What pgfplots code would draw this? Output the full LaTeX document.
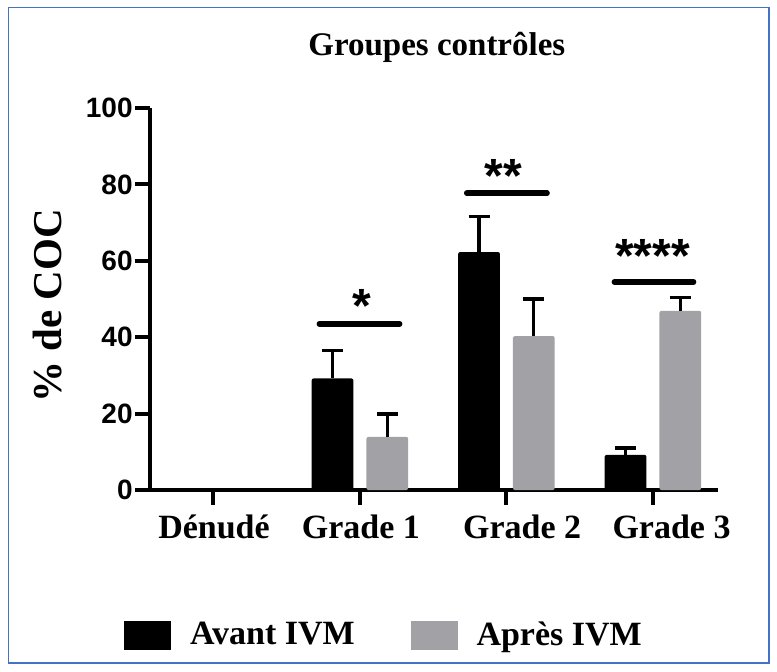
\documentclass[border=0pt]{standalone}
\usepackage{fontspec}
\setmainfont{Liberation Serif}
\newfontfamily\arialfont{Liberation Sans}
\usepackage{pgfplots}
\pgfplotsset{compat=1.18}
\definecolor{grisbar}{RGB}{162,162,166}
\definecolor{cadre}{RGB}{68,114,196}

\begin{document}
\begin{tikzpicture}
\path[use as bounding box] (0pt,0pt) rectangle (388.5pt,-335.5pt);
\draw[cadre, line width=0.8pt] (4.2pt,-3.8pt) rectangle (384.5pt,-331.5pt);
\begin{axis}[
  at={(75pt,-245pt)}, anchor=south west,
  scale only axis, width=284pt, height=191pt,
  xmin=-0.43, xmax=3.447, ymin=0, ymax=100,
  axis x line*=bottom, axis y line*=left,
  axis line style={line width=2.25pt},
  xtick={0,1,2,3}, xticklabels={,,,},
  ytick={0,20,40,60,80,100},
  tick align=outside, major tick length=7.5pt,
  tick style={line width=2pt, black},
  /pgf/number format/assume math mode=true,
  yticklabel style={font=\arialfont\bfseries\fontsize{14}{16}\selectfont, inner sep=1pt},
  ylabel={\% de COC},
  ylabel style={at={(axis description cs:-0.155,0.482)}, anchor=base, font=\bfseries\fontsize{20.5}{24}\selectfont},
  title={Groupes contrôles},
  title style={at={(axis description cs:0.505,1.105)}, anchor=base, font=\bfseries\fontsize{16.5}{19}\selectfont},
  clip=false,
  legend columns=2,
  legend style={at={(axis description cs:-0.046,-0.38)}, anchor=west, draw=none, fill=none, inner sep=0pt,
    font=\bfseries\fontsize{17}{20}\selectfont,
    /tikz/every odd column/.append style={column sep=7.5pt},
    /tikz/every even column/.append style={column sep=26pt}},
]
% Avant IVM
\addplot[ybar, bar width=0.285, bar shift=0pt, fill=black, draw=none, rounded corners=1pt, forget plot,
  error bars/.cd, y dir=plus, y explicit,
  error bar style={draw=black, line width=1.6pt, rounded corners=0pt},
  error mark options={draw=black, line width=1.6pt, mark size=5.25pt, rotate=90}]
  coordinates {(0.816,29.2) +- (0,7.4) (1.816,62.3) +- (0,9.2) (2.816,9.2) +- (0,1.8)};
% Apres IVM
\addplot[ybar, bar width=0.285, bar shift=0pt, fill=grisbar, draw=none, rounded corners=1pt, forget plot,
  error bars/.cd, y dir=plus, y explicit,
  error bar style={draw=black, line width=1.6pt, rounded corners=0pt},
  error mark options={draw=black, line width=1.6pt, mark size=5.25pt, rotate=90}]
  coordinates {(1.19,13.9) +- (0,6.0) (2.19,40.3) +- (0,9.7) (3.19,46.9) +- (0,3.5)};
% significance lines
\addplot[line width=2.8pt, line cap=round, forget plot] coordinates {(0.726,43.5) (1.274,43.5)};
\addplot[line width=2.8pt, line cap=round, forget plot] coordinates {(1.732,77.7) (2.28,77.7)};
\addplot[line width=2.8pt, line cap=round, forget plot] coordinates {(2.74,54.5) (3.28,54.5)};

\addlegendimage{legend image code/.code={\fill[black] (0pt,-7pt) rectangle (23pt,7pt);}}
\addlegendentry{Avant IVM}
\addlegendimage{legend image code/.code={\fill[grisbar] (0pt,-7pt) rectangle (23pt,7pt);}}
\addlegendentry{Après IVM}

\node[anchor=base, font=\arialfont\bfseries\fontsize{24}{28}\selectfont] at (axis cs:1.017,43.8) {*};
\node[anchor=base, font=\arialfont\bfseries\fontsize{24}{28}\selectfont] at (axis cs:1.98,78) {**};
\node[anchor=base, font=\arialfont\bfseries\fontsize{24}{28}\selectfont] at (axis cs:3.0,57) {****};

\node[anchor=base, font=\bfseries\fontsize{17}{20}\selectfont] at (axis cs:0.007,-12.8) {Dénudé};
\node[anchor=base, font=\bfseries\fontsize{17}{20}\selectfont] at (axis cs:1.01,-12.8) {Grade 1};
\node[anchor=base, font=\bfseries\fontsize{17}{20}\selectfont] at (axis cs:2.11,-12.8) {Grade 2};
\node[anchor=base, font=\bfseries\fontsize{17}{20}\selectfont] at (axis cs:3.13,-12.8) {Grade 3};
\end{axis}
\end{tikzpicture}
\end{document}
